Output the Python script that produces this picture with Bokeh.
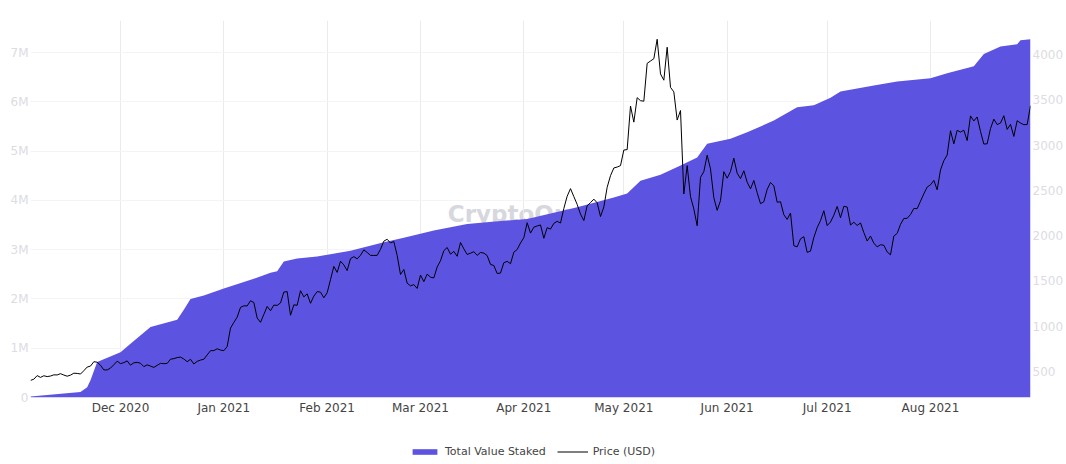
import pandas as pd
from bokeh.plotting import figure
from bokeh.layouts import column
from bokeh.models import Range1d, LinearAxis, DatetimeTickFormatter, Legend, LegendItem
from bokeh.core.properties import value
from bokeh.embed import file_html
from bokeh.resources import INLINE

# ETH price (USD), daily from 2020-11-04
price_nov = [402, 415, 455, 435, 453, 444, 450, 463, 462, 476, 461, 448, 460, 481,
             479, 472, 509, 549, 560, 608, 603, 569, 518, 517, 538, 575, 614]
price_dec = [587, 598, 617, 570, 596, 601, 591, 554, 573, 560, 545, 568, 590, 586, 589,
             636, 642, 654, 659, 638, 608, 635, 583, 612, 626, 635, 683, 730, 731, 751, 737]
price_jan = [730, 775, 979, 1042, 1100, 1208, 1225, 1224, 1281, 1262, 1090, 1043, 1130,
             1218, 1171, 1233, 1230, 1257, 1377, 1382, 1121, 1236, 1231, 1392, 1324, 1357,
             1253, 1332, 1382, 1376, 1314]
price_feb = [1369, 1515, 1660, 1594, 1718, 1677, 1614, 1746, 1768, 1744, 1783, 1843, 1814,
             1782, 1781, 1782, 1849, 1939, 1960, 1919, 1935, 1781, 1571, 1626, 1475, 1446,
             1459, 1417]
price_mar = [1565, 1492, 1575, 1541, 1533, 1654, 1723, 1834, 1869, 1795, 1826, 1772, 1924,
             1854, 1792, 1806, 1823, 1782, 1814, 1807, 1780, 1682, 1670, 1582, 1587, 1701,
             1716, 1690, 1817, 1847, 1919]
price_apr = [1977, 2143, 2028, 2093, 2107, 2118, 1971, 2088, 2072, 2135, 2158, 2139, 2300,
             2435, 2519, 2431, 2345, 2237, 2166, 2330, 2364, 2403, 2363, 2211, 2316, 2534,
             2662, 2747, 2757, 2773]
price_may = [2945, 2950, 3431, 3253, 3523, 3490, 3484, 3902, 3928, 3953, 4168, 3785, 3716,
             4080, 3637, 3587, 3276, 3381, 2460, 2773, 2430, 2295, 2109, 2643, 2707, 2888,
             2736, 2419, 2279, 2386, 2706]
price_jun = [2634, 2708, 2855, 2689, 2630, 2716, 2590, 2517, 2609, 2474, 2353, 2374, 2510,
             2587, 2550, 2369, 2374, 2231, 2179, 2250, 1889, 1876, 1965, 1988, 1815, 1829,
             1980, 2088, 2167, 2275]
price_jul = [2111, 2150, 2226, 2322, 2198, 2324, 2316, 2117, 2148, 2112, 2140, 2034, 1940,
             1995, 1917, 1876, 1899, 1894, 1820, 1788, 1995, 2025, 2124, 2189, 2191, 2233,
             2300, 2298, 2380, 2462, 2536]
price_aug = [2561, 2610, 2506, 2725, 2827, 2890, 3158, 3013, 3163, 3143, 3164, 3049, 3322,
             3266, 3310, 3150, 3011, 3014, 3182, 3286, 3226, 3243, 3324, 3173, 3228, 3095,
             3269, 3243, 3225, 3226, 3434]

# total value staked (million ETH)
stake_dates = ["2020-11-04", "2020-11-19", "2020-11-21", "2020-11-22", "2020-11-24",
               "2020-12-01", "2020-12-04", "2020-12-10", "2020-12-18", "2020-12-20",
               "2020-12-22", "2020-12-26", "2021-01-01", "2021-01-10", "2021-01-15",
               "2021-01-17", "2021-01-19", "2021-01-23", "2021-01-29", "2021-02-08",
               "2021-02-18", "2021-02-24", "2021-03-05", "2021-03-15", "2021-03-25",
               "2021-04-02", "2021-04-17", "2021-04-28", "2021-05-02", "2021-05-06",
               "2021-05-12", "2021-05-18", "2021-05-23", "2021-05-26", "2021-06-02",
               "2021-06-07", "2021-06-15", "2021-06-22", "2021-06-27", "2021-07-02",
               "2021-07-05", "2021-07-15", "2021-07-22", "2021-08-01", "2021-08-06",
               "2021-08-14", "2021-08-17", "2021-08-22", "2021-08-27", "2021-08-28",
               "2021-08-31"]
stake_values = [0.02, 0.11, 0.21, 0.35, 0.72, 0.92, 1.09, 1.43, 1.58, 1.78,
                2.0, 2.07, 2.21, 2.41, 2.53, 2.56, 2.76, 2.82, 2.86, 2.98,
                3.15, 3.24, 3.39, 3.52, 3.58, 3.62, 3.86, 4.06, 4.14, 4.40,
                4.52, 4.71, 4.87, 5.15, 5.25, 5.38, 5.62, 5.89, 5.93, 6.08,
                6.21, 6.33, 6.41, 6.48, 6.58, 6.72, 6.97, 7.12, 7.17, 7.25,
                7.27]

month_ticks = ["2020-12-01", "2021-01-01", "2021-02-01", "2021-03-01", "2021-04-01",
               "2021-05-01", "2021-06-01", "2021-07-01", "2021-08-01"]
left_ticks = [0, 1, 2, 3, 4, 5, 6, 7]
right_ticks = [500, 1000, 1500, 2000, 2500, 3000, 3500, 4000]

price = (price_nov + price_dec + price_jan + price_feb + price_mar + price_apr
         + price_may + price_jun + price_jul + price_aug)
price_dates = pd.date_range("2020-11-04", periods=len(price))
stake_x = pd.to_datetime(stake_dates)

x_start = pd.Timestamp("2020-11-04")
x_end = pd.Timestamp("2021-08-31")
y_top = 7.65

FONT = "DejaVu Sans"
AREA_COLOR = "#5d53e1"

p = figure(
    width=1066, height=417,
    x_axis_type="datetime",
    x_range=Range1d(x_start, x_end),
    y_range=Range1d(0, y_top),
    output_backend="svg",
    toolbar_location=None,
    min_border_left=30, min_border_right=32,
    min_border_top=20, min_border_bottom=20,
)
p.outline_line_color = None
p.extra_y_ranges = {"price": Range1d(213, 4375)}

# watermark behind the data
p.text(x=[x_start + (x_end - x_start) / 2], y=[y_top * 0.488], text=["CryptoQuant"],
       text_align="center", text_baseline="alphabetic",
       text_font=value(FONT), text_font_size="23px", text_font_style="bold",
       text_color="#d7d7de", level="underlay")

p.varea(x=stake_x, y1=0, y2=stake_values, fill_color=AREA_COLOR)
p.line(x=price_dates, y=price, line_color="black", line_width=1, y_range_name="price")

p.xaxis.ticker = [pd.Timestamp(d).value // 10**6 for d in month_ticks]
p.xaxis.formatter = DatetimeTickFormatter(days="%b %Y", months="%b %Y", years="%b %Y")
p.yaxis.ticker = left_ticks
p.yaxis.major_label_overrides = {t: ("0" if t == 0 else f"{t}M") for t in left_ticks}

right_axis = LinearAxis(y_range_name="price", ticker=right_ticks)
p.add_layout(right_axis, "right")

for ax in p.axis:
    ax.axis_line_color = None
    ax.major_tick_line_color = None
    ax.minor_tick_line_color = None
    ax.major_tick_out = 0
    ax.major_tick_in = 0
    ax.minor_tick_out = 0
    ax.major_label_text_font = FONT
    ax.major_label_text_font_size = "12px"
    ax.major_label_standoff = 2
p.xaxis.major_label_text_color = "#444444"
p.xaxis.major_label_standoff = 3
for ax in p.yaxis:
    ax.major_label_text_color = "#dcdce3"

p.xgrid.grid_line_color = "#ebebef"
p.ygrid.grid_line_color = "#f4f4f6"

# legend strip under the chart; swatch renderers sit outside the visible range
leg = figure(width=1066, height=47, toolbar_location=None, output_backend="svg",
             x_axis_location=None, y_axis_location=None, min_border=0,
             x_range=(0, 1), y_range=(0, 1))
leg.grid.visible = False
leg.outline_line_color = None
sw_area = leg.varea(x=[0, 1], y1=[0, 0], y2=[0, 0], fill_color=AREA_COLOR)
sw_line = leg.line(x=[0, 1], y=[-1, -1], line_color="black", line_width=1)

legend = Legend(
    items=[LegendItem(label="Total Value Staked", renderers=[sw_area]),
           LegendItem(label="Price (USD)", renderers=[sw_line])],
    orientation="horizontal", location=(379, 6),
    border_line_color=None, background_fill_alpha=0,
    padding=0, margin=0, spacing=11,
    glyph_width=31, glyph_height=7, label_height=7, label_standoff=5,
    label_text_font=FONT, label_text_font_size="11px", label_text_color="#444444",
)
leg.add_layout(legend)

layout = column(p, leg)
open("out.html", "w").write(file_html(layout, INLINE))
